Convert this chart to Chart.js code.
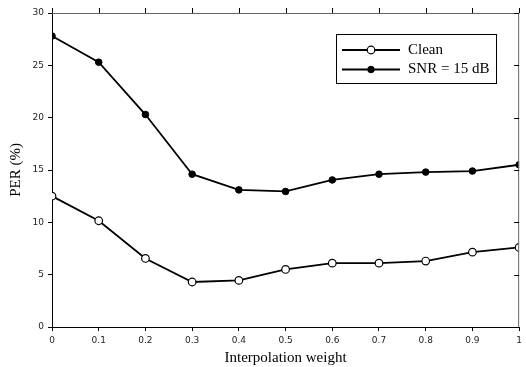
<!DOCTYPE html>
<html>
<head>
<meta charset="utf-8">
<script src="https://cdn.jsdelivr.net/npm/chart.js@4.4.1/dist/chart.umd.min.js"></script>
<style>
    html, body { margin: 0; padding: 0; background: #fff; }
    #perChart { display: block; }
</style>
</head>
<body>
<canvas id="perChart" width="526" height="367"></canvas>
<script>
const weights = [0, 0.1, 0.2, 0.3, 0.4, 0.5, 0.6, 0.7, 0.8, 0.9, 1];
const cleanPer = [12.5, 10.15, 6.55, 4.3, 4.45, 5.5, 6.1, 6.1, 6.3, 7.15, 7.6];
const snr15Per = [27.8, 25.3, 20.3, 14.6, 13.1, 12.95, 14.05, 14.6, 14.8, 14.9, 15.5];
const seriesNames = ["Clean", "SNR = 15 dB"];

function toPoints(values) {
    return weights.map((w, i) => ({ x: w, y: values[i] }));
}

// top/right frame + legend box, drawn after the chart
const framePlugin = {
    id: "frame",
    afterDraw(chart) {
        const ctx = chart.ctx;
        const area = chart.chartArea;
        const xs = chart.scales.x;
        const ys = chart.scales.y;
        ctx.save();
        ctx.strokeStyle = "#666";
        ctx.lineWidth = 1;
        ctx.beginPath();
        ctx.moveTo(area.left, area.top + 0.5);
        ctx.lineTo(area.right, area.top + 0.5);
        ctx.moveTo(area.right - 0.5, area.top);
        ctx.lineTo(area.right - 0.5, area.bottom);
        ctx.stroke();

        ctx.strokeStyle = "#000";
        ctx.beginPath();
        xs.ticks.forEach((t) => {
            const px = Math.round(xs.getPixelForValue(t.value)) + 0.5;
            ctx.moveTo(px, area.top);
            ctx.lineTo(px, area.top - 5);
        });
        ys.ticks.forEach((t) => {
            const py = Math.round(ys.getPixelForValue(t.value)) + 0.5;
            ctx.moveTo(area.right, py);
            ctx.lineTo(area.right - 5, py);
        });
        ctx.stroke();

        // legend
        const bx = 336.5, by = 34.5, bw = 160, bh = 49;
        ctx.fillStyle = "#fff";
        ctx.fillRect(bx, by, bw, bh);
        ctx.strokeStyle = "#000";
        ctx.strokeRect(bx, by, bw, bh);
        chart.data.datasets.forEach((ds, i) => {
            const ry = 50 + i * 19.5;
            ctx.lineWidth = ds.borderWidth;
            ctx.strokeStyle = "#000";
            ctx.beginPath();
            ctx.moveTo(342, ry);
            ctx.lineTo(400, ry);
            ctx.stroke();
            ctx.beginPath();
            ctx.arc(371, ry, ds.pointRadius, 0, Math.PI * 2);
            ctx.fillStyle = ds.pointBackgroundColor;
            ctx.fill();
            ctx.lineWidth = ds.pointBorderWidth;
            ctx.stroke();
            ctx.fillStyle = "#000";
            ctx.font = "15px 'Liberation Serif', serif";
            ctx.textBaseline = "middle";
            ctx.textAlign = "left";
            ctx.fillText(ds.label, 408, ry);
        });
        ctx.restore();
    },
};

const ctx = document.getElementById("perChart");
new Chart(ctx, {
    type: "line",
    data: {
        datasets: [
            {
                label: seriesNames[0],
                data: toPoints(cleanPer),
                borderColor: "#000",
                borderWidth: 1.8,
                pointRadius: 3.8,
                pointBackgroundColor: "#fff",
                pointBorderColor: "#000",
                pointBorderWidth: 1.2,
                tension: 0,
            },
            {
                label: seriesNames[1],
                data: toPoints(snr15Per),
                borderColor: "#000",
                borderWidth: 1.8,
                pointRadius: 3.3,
                pointBackgroundColor: "#000",
                pointBorderColor: "#000",
                pointBorderWidth: 1,
                tension: 0,
            },
        ],
    },
    options: {
        responsive: false,
        animation: false,
        layout: { padding: { top: 13, right: 4, left: 0, bottom: 0 } },
        plugins: {
            legend: { display: false },
            tooltip: { enabled: false },
        },
        scales: {
            x: {
                type: "linear",
                min: 0,
                max: 1,
                afterFit: (scale) => { scale.height = 40; },
                ticks: {
                    stepSize: 0.1,
                    padding: 4,
                    color: "#222",
                    font: { family: "'DejaVu Sans', sans-serif", size: 9 },
                    callback: (v) => String(+v.toFixed(1)),
                },
                grid: { drawOnChartArea: false, tickLength: 4, color: "#000" },
                border: { color: "#000", width: 1 },
                title: {
                    display: true,
                    text: "Interpolation weight",
                    color: "#000",
                    font: { family: "'Liberation Serif', serif", size: 15 },
                    padding: { top: 0, bottom: 0 },
                },
            },
            y: {
                min: 0,
                max: 30,
                afterFit: (scale) => { scale.width = 52; },
                ticks: {
                    stepSize: 5,
                    padding: 4,
                    color: "#222",
                    font: { family: "'DejaVu Sans', sans-serif", size: 9 },
                },
                grid: { drawOnChartArea: false, tickLength: 4, color: "#000" },
                border: { color: "#000", width: 1 },
                title: {
                    display: true,
                    text: "PER (%)",
                    color: "#000",
                    font: { family: "'Liberation Serif', serif", size: 15 },
                    padding: { top: 7, bottom: 0 },
                },
            },
        },
    },
    plugins: [framePlugin],
});
</script>
</body>
</html>
